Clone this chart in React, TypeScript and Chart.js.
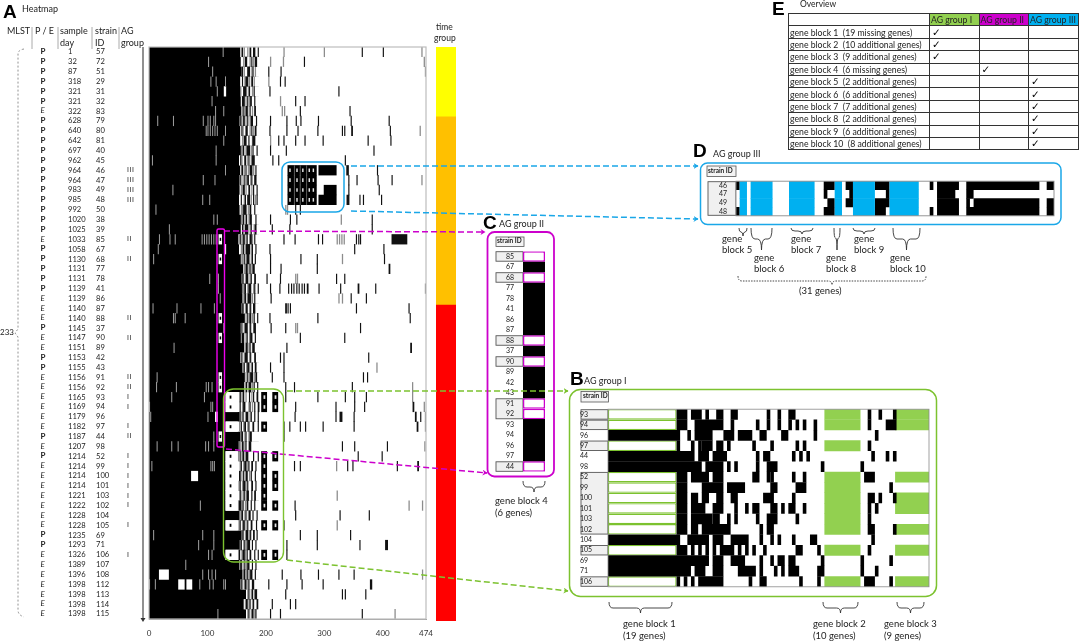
import React, { useEffect, useRef } from 'react';
import { Chart, registerables } from 'chart.js';

Chart.register(...registerables);

// ---------- Panel A : metadata ----------
const sampleDays = [1,32,87,318,321,321,322,628,640,642,697,962,964,964,983,985,992,1020,1025,1033,1058,1130,1131,1131,1139,1139,1140,1140,1145,1147,1151,1153,1155,1156,1156,1165,1169,1179,1182,1187,1207,1214,1214,1214,1214,1221,1222,1228,1228,1235,1293,1326,1389,1396,1398,1398,1398,1398];
const strainIds = ['57','72','51','29','31','32','83','79','80','81','40','45','46','47','49','48','50','38','39','85','67','68','77','78','41','86','87','88','37','90','89','42','43','91','92','93','94','96','97','44','98','52','99','100','101','103','102','104','105','69','71','106','107','108','112','113','114','115'];
const sourceTypes = ['P','P','P','P','P','P','E','P','P','P','P','P','P','P','P','P','P','P','P','E','P','P','P','P','P','E','E','E','P','E','E','P','P','E','E','E','E','E','E','P','E','P','E','E','E','E','E','E','E','P','P','E','E','E','E','E','E','E'];
const agGroups = ['','','','','','','','','','','','','III','III','III','III','','','','II','','II','','','','','','II','','II','','','','II','II','I','I','','I','II','','I','I','I','I','I','I','','I','','','I','','','','','',''];
const heatTicks = [0,100,200,300,400,474];
const timeGroupRows = [7,19,32];

// ---------- Panel A : heat map, columns ----------
const whiteFrom = [156,157,158,156,157,157,158,155,156,156,158,154,156,155,155,154,155,158,157,153,154,156,161,160,160,160,161,164,157,162,163,156,160,164,163,131,131,155,131,158,153,131,131,131,131,131,131,155,131,160,157,131,156,160,158,166,162,166];
const whiteBlocks: number[][][] = [
  [],[],[],[],[[128,132]],[],[],[],[],[],[],[],[],[],[],[],[],[],[],[[119,125]],[[129,132]],[[119,125]],[],[],[],[],[],[[119,125]],[],[[119,125]],[],[],[],[[119,125]],[[119,125]],[],[],[[113,118]],[],[[119,125]],[],[],[],[[72,84]],[],[],[],[],[],[],[],[],[],[[17,34]],[[50,61],[64,74]],[],[],[],
];
const flecks = [
  [126],[101],[108],[105,114,130],[116],[107],[113,127],[14,41,92,100,104,110,113],[97,100,104,108,112,116,130],[127],[114],[5,114],[130],[92,112],[40],[91,103],[11],[110,116],[34],[17,35,44,90,94,98,102,106,110,114],[15],[7],[],[103,118],[118],[121],[6,47,88,111],[41,44,61],[127],[],[42],[],[],[13],[12,46,97,101,107],[38,94],[0,105,108],[2,100],[],[110],[13,38,49,96,101,110],[],[4,105,108,111],[],[],[],[87],[],[],[7,91,110],[84,110],[101,107],[62],[91,101,107,113],[0,10,86,103,109,127,130],[],[],[117],
];
const darkStripes: (number | number[])[][] = [
  [159,[172,3],[178,4],186,364,400],
  [[164,4],[175,2],[181,4],265],
  [[158,3],[168,5],[177,2],204,225],
  [[159,2],[165,5],[175,3],224,232],
  [[161,6],[171,2],179,206,324],
  [[159,5],[168,2],[173,3],[180,2],250,266],
  [[160,2],[165,4],[172,2],[180,3],258,343],
  [156,[161,3],168,[174,4],[183,2],207,235,251,259,289,345,410],
  [158,[165,4],[175,2],[181,3],206,235,254,288,330,334,[346,3],412],
  [[162,5],[170,2],[177,5],221,230,250,266,297,374,413],
  [[160,3],[167,6],[177,2],[184,2],207,234,384],
  [156,[163,3],[170,2],[176,5],211,221,335],
  [[158,3],[165,2],[172,5],[182,2],[338,4],390],
  [156,[163,2],[168,3],[175,2],[180,4],341,355,391,415],
  [[160,4],[170,3],[178,2],[184,2],341,393],
  [157,[164,2],[168,5],[178,2],[184,2],[338,5],360,366,397],
  [[161,6],[172,3],[180,2],250,258],
  [[160,3],[166,2],[172,4],[182,2],207,241,252,381],
  [[159,2],[164,6],[174,2],[181,3],210,240,381],
  [156,[161,3],[167,2],[172,4],[180,2],230,249,289,296,354,358,361,[415,27]],
  [[160,3],[166,7],[176,2],[182,2],206,351,401],
  [156,[162,2],[167,5],[176,2],[181,2],207,259,287,402],
  [[165,4],[172,2],[177,4],207,225,287,[410,3]],
  [[160,2],[166,4],[174,2],[180,3],201,224,320,334],
  [157,[163,3],[170,5],[180,2],[186,2],207,223,238,243,247,252,256,261,265,[270,3],290,327,[357,3],387],
  [[163,3],[169,6],[180,2],208,345,371],
  [[160,2],[166,3],[173,2],[178,4],[233,3],237,241,354,444],
  [[168,2],[172,3],[179,2],[185,2],206,288,446],
  [158,[164,5],[173,2],[179,4],208,233,361],
  [[160,3],[167,2],[173,4],[181,2],258,334],
  [[166,3],[172,2],[177,4],235,[447,3]],
  [[158,2],[164,5],[173,2],[180,3],224,230,375],
  [[162,2],[168,4],[176,2],[181,3],207,230],
  [[168,2],[173,5],[182,3],210,230,366,373],
  [[166,2],[171,4],[179,2],[185,2],233,248,347],
  [156,[160,3],[171,2],[178,2],[184,3],233,288,335,351,371],
  [155,[161,4],[172,2],[180,2],[186,3],250,319,351,368,[451,3]],
  [155,[160,2],[166,4],[174,2],[180,2],[186,2],249,319,[326,5],350,[455,3],464],
  [157,[163,3],[170,2],[177,3],186,230,240,258,267,297,350,[458,3]],
  [[158,3],[165,2],[172,4],230],
  [153,[159,3],[165,2],[171,4],330,351,407],
  [155,[160,3],[166,4],[178,2],[186,2],357,398],
  [157,[163,4],[170,2],[175,3],[182,2],248,258,339,348,424,[459,3]],
  [[154,3],[161,2],[166,3],[174,2],[181,2]],
  [155,[161,4],[168,2],[175,3],[182,2]],
  [[156,2],[162,2],[167,4],[175,2],[180,3]],
  [[154,4],[160,2],[167,3],[174,2],[180,2],249],
  [[158,3],[165,2],[171,3],[177,2],[184,2],250,326,376],
  [155,[161,3],[168,2],[174,3],[183,2],230],
  [[160,2],[166,4],[173,2],[178,3],184,258,287,344],
  [157,[163,2],[168,5],[176,2],[182,2],235,287,360,[404,5]],
  [[154,2],[160,4],[167,2],[172,3],[180,2],[186,2],235],
  [[156,3],[163,2],[168,4],[176,2],[182,2]],
  [[162,3],[168,2],[173,4],[181,2],227,259,289,324,350],
  [[158,2],[164,3],[170,2],[176,4],204,235,261,297,[378,4]],
  [[170,2],[176,2],[181,4],233,330,335,370],
  [[166,3],[172,2],[178,2],[184,3],210,241,250],
  [[170,2],[176,3],[182,2],207,224,364],
];
const grayStripes: number[][] = [
  [157,162,168,230,299,466],[161,172,178,207,229,470],[162,175,181,472],[163,171,179,204],[156,169,176],[165,171,224],[162,168,176,227,231],[158,165,172],[160,172,178,463],[159,176,207],[157,165,174],[158,167,174],[162,169,178,337],[160,166,173,466],[157,165,175],[162,174,181],[157,159,169,233,236],[157,164,170,328],[161,172,179],[154,159,165,176,321,325,329,333],
  [157,164,174],[159,165,174,330],[162,170,175],[158,164,172,250,253],[161,168,178,472],[160,167,176,324,330],[158,164,171],[165,171,176],[162,171,178,250,253],[157,165,171],
  [164,170,176],[156,162,171],[160,166,174,389],[165,171,179],[164,169,176,450],[154,165,175,450],[159,170,176,470],[158,164,172,472],[154,161,168,472],[156,163,170],[156,163,170,471],[152,158,164],[155,161,168,320],[158,164,171],[153,159,165],[154,160,165,321],[152,158,164,444,467],[156,163,169],[153,159,165,321],[158,164,171],[155,161,166],[152,158,164],[154,160,166],[160,166,171,467],[156,162,168],[168,174,179],[164,170,176],[168,174,180,420],
];
const openFieldCols = [188,474];
const blockBlackCols = [[192,202],[211,221]];
const blockTwoRows = [35,36,38,41,42,43,44,45,46,48,51];
const blockThreeRows = [35,36,41,43,44,46,48,51];
const groupOneBlockRows = [35,36,38,41,42,43,44,45,46,48,51];
const groupTwoBlockRows = [19,21,27,29,33,34,39];
const groupThreeRows = [12,13,14,15];
const groupThreeSpans = [[[237,287],[290,321]],[[237,287]],[[237,287],[299,321]],[[237,287],[290,321]]];
const groupThreeGaps = [248,258,269];
const groupThreeDots = [240,252,262,273,280];

// ---------- Panel B ----------
const bStrains = ['93','94','96','97','44','98','52','99','100','101','103','102','104','105','69','71','106'];
const bBlackCells = [
  [[19,22],[23,26],[27,28],[30,32],[34,36],[44,45],[47,48],[50,52],[72,73],[75,76],[79,80]],
  [[19,22],[24,32],[34,35],[41,42],[44,45],[47,48],[50,51],[52,53],[54,55],[57,58],[72,73],[77,80]],
  [[0,20],[22,23],[24,29],[32,35],[36,40],[42,44],[48,50],[57,58],[74,75]],
  [[19,20],[23,24],[25,26],[26,29],[30,32],[33,34],[40,41],[45,46],[52,53],[54,55],[72,73]],
  [[0,24],[25,28],[29,33],[41,42],[43,45],[51,52],[53,54],[55,56],[73,74],[77,78],[79,80]],
  [[0,26],[27,32],[33,34],[35,36],[41,42],[44,47],[59,60],[70,71]],
  [[19,22],[23,28],[29,32],[40,42],[44,45],[45,46],[51,52],[54,55],[71,74]],
  [[19,22],[26,32],[33,38],[45,47],[52,55],[78,79]],
  [[19,22],[23,25],[26,28],[30,32],[34,36],[43,46],[51,52],[72,74],[75,76],[79,80]],
  [[19,22],[23,27],[29,32],[35,36],[38,39],[40,42],[45,47],[48,49],[50,52],[54,55],[72,73],[74,75]],
  [[19,22],[23,29],[29,31],[33,34],[35,36],[41,42],[44,47],[52,53],[72,73]],
  [[19,22],[23,25],[26,34],[42,43],[44,46],[72,74],[79,80]],
  [[0,20],[22,28],[29,32],[34,39],[42,43],[45,46],[47,48],[51,52],[56,58],[73,74]],
  [[19,22],[23,24],[25,26],[27,28],[29,30],[31,35],[36,37],[38,39],[40,41],[43,44],[52,54],[58,59],[72,73]],
  [[0,28],[29,32],[34,38],[42,43],[45,46],[47,49],[50,52],[59,60],[70,71],[78,79]],
  [[0,23],[24,27],[29,32],[36,41],[42,43],[46,47],[48,49],[50,53],[58,60],[70,71],[74,75]],
  [[19,20],[21,22],[23,24],[25,32],[39,40],[42,44],[53,54],[58,59],[71,74],[78,79]],
];
const bBlockOneRows = ['93','94','97','52','99','100','101','103','102','105','106'];
const bBlockTwoRows = ['93','94','97','52','99','100','101','103','102','105','106'];
const bBlockThreeRows = ['93','94','52','100','101','102','105','106'];
const bLabelBoxes = [[0,0],[1,1],[3,3],[6,11],[13,13],[16,16]];

// ---------- Panel C ----------
const cStrains = ['85','67','68','77','78','41','86','87','88','37','90','89','42','43','91','92','93','94','96','97','44'];
const cWhiteRows = ['85','68','88','90','91','92','44'];
const cLabelBoxes = [[0,0],[2,2],[8,8],[10,10],[14,15],[20,20]];

// ---------- Panel D ----------
const dStrains = ['46','47','49','48'];
const dBlackCells = [
  [[0,1],[24,27],[30,32],[38,42],[53,54],[55,61],[63,83],[85,87]],
  [[24,25],[31,32],[41,42],[55,60],[63,65]],
  [[25,27],[30,32],[38,42],[55,61],[63,64],[65,83],[85,87]],
  [[0,1],[24,27],[38,41],[53,54],[55,61],[63,83],[85,87]],
];
const dBlueCols = [[1,3],[4,10],[14.5,21.5],[27,29],[32,38],[42,50]];

// ---------- Panel E ----------
const overviewHeads = ['AG group I','AG group II','AG group III'];
const overviewBlocks = ['gene block 1','gene block 2','gene block 3','gene block 4','gene block 5','gene block 6','gene block 7','gene block 8','gene block 9','gene block 10'];
const overviewNotes = ['(19 missing genes)','(10 additional genes)','(9 additional genes)','(6 missing genes)','(2 additional genes)','(6 additional genes)','(7 additional genes)','(2 additional genes)','(6 additional genes)','(8 additional genes)'];
const overviewGroup = [0,0,0,1,2,2,2,2,2,2];

const GREEN = '#92D050';
const GREEN_LINE = '#7CC22F';
const BLUE = '#00B0F0';
const BLUE_LINE = '#1AA7E8';
const MAGENTA = '#CC00CC';
const BODY = 'Lato, "Noto Sans", sans-serif';

type Seg = { x: number[]; y: string };
const flat = (rows: (number[][])[], labels: string[]): Seg[] =>
  rows.flatMap((spans, r) => spans.map(s => ({ x: [s[0], s[1]], y: labels[r] })));

const bars = (label: string, data: Seg[], color: string, extra: any = {}) => ({
  label, data, backgroundColor: color, borderWidth: 0, grouped: false,
  categoryPercentage: 1.04, barPercentage: 1, ...extra,
});

const framePlugin = (bg: string, edge: string, lw = 1) => ({
  id: 'frame',
  beforeDatasetsDraw(c: any) {
    const { ctx, chartArea: a } = c;
    ctx.save(); ctx.fillStyle = bg; ctx.fillRect(a.left, a.top, a.right - a.left, a.bottom - a.top); ctx.restore();
  },
  afterDatasetsDraw(c: any) {
    const { ctx, chartArea: a } = c;
    ctx.save(); ctx.strokeStyle = edge; ctx.lineWidth = lw;
    ctx.strokeRect(a.left, a.top, a.right - a.left, a.bottom - a.top); ctx.restore();
  },
});

const labelBoxPlugin = (groups: number[][], fill: string) => ({
  id: 'labelBoxes',
  beforeDraw(c: any) {
    const { ctx, chartArea: a } = c; const y = c.scales.y;
    const rowH = (a.bottom - a.top) / y.ticks.length;
    ctx.save();
    groups.forEach(([f, l]) => {
      const top = a.top + f * rowH; const h = (l - f + 1) * rowH;
      ctx.fillStyle = fill; ctx.fillRect(y.left + 1, top + 0.5, a.left - y.left - 1, h - 1);
      ctx.strokeStyle = '#555'; ctx.lineWidth = 0.9;
      ctx.strokeRect(y.left + 1, top + 0.5, a.left - y.left - 1, h - 1);
    });
    ctx.restore();
  },
});

const catY = (labels: string[], show: boolean, width: number, align: any, size = 7.5, pad = 1) => ({
  type: 'category', labels, offset: true, display: show,
  grid: { display: false }, border: { display: false },
  afterFit: (s: any) => { s.width = width; },
  ticks: { autoSkip: false, padding: pad, color: '#222', font: { family: BODY, size }, crossAlign: align },
});

const base = (extra: any) => ({
  responsive: false, animation: false, devicePixelRatio: 1, maintainAspectRatio: false,
  plugins: { legend: { display: false }, tooltip: { enabled: false }, title: { display: false } },
  ...extra,
});

function heatConfig() {
  const whiteRows = whiteFrom.map((w, r) => [[w, openFieldCols[0] + 1], ...whiteBlocks[r]]);
  const fieldRows = whiteFrom.map(() => [openFieldCols]);
  const fleckRows = flecks.map(cols => cols.map(c => [c, c + 1.8]));
  const darkRows = darkStripes.map(row => row.map(v => Array.isArray(v) ? [v[0], v[0] + v[1]] : [v, v + 2]));
  const grayRows = grayStripes.map(row => row.map(c => [c, c + 2.2]));
  const blockBlack: Seg[] = [
    ...blockTwoRows.map(r => ({ x: blockBlackCols[0], y: strainIds[r] })),
    ...blockThreeRows.map(r => ({ x: blockBlackCols[1], y: strainIds[r] })),
    ...groupThreeRows.flatMap((r, i) => groupThreeSpans[i].map(s => ({ x: s, y: strainIds[r] }))),
  ];
  const lightDots: Seg[] = [
    ...blockTwoRows.map(r => ({ x: [196, 199], y: strainIds[r] })),
    ...blockThreeRows.map(r => ({ x: [215, 218], y: strainIds[r] })),
    ...groupThreeRows.flatMap(r => groupThreeDots.map(c => ({ x: [c, c + 2.5], y: strainIds[r] }))),
  ];
  const gaps: Seg[] = groupThreeRows.flatMap(r => groupThreeGaps.map(c => ({ x: [c, c + 1.5], y: strainIds[r] })));
  const blackDots: Seg[] = [
    ...groupOneBlockRows.map(r => ({ x: [138, 141], y: strainIds[r] })),
    ...groupTwoBlockRows.map(r => ({ x: [121, 123.5], y: strainIds[r] })),
  ];
  const cleared: Seg[] = [
    ...groupOneBlockRows.map(r => ({ x: [131, 152], y: strainIds[r] })),
    ...groupThreeRows.map(r => ({ x: [228, 237], y: strainIds[r] })),
  ];
  return {
    type: 'bar',
    data: {
      labels: strainIds,
      datasets: [
        bars('dots', blackDots, '#000', { barPercentage: 0.3 }),
        bars('lightDots', lightDots, '#e4e4e4', { barPercentage: 0.35 }),
        bars('gaps', gaps, '#6a6a6a'),
        bars('blockBlack', blockBlack, '#000'),
        bars('cleared', cleared, '#fff'),
        bars('dark', flat(darkRows, strainIds), '#111'),
        bars('gray', flat(grayRows, strainIds), '#8c8c8c'),
        bars('flecks', flat(fleckRows, strainIds), '#9a9a9a'),
        bars('white', flat(whiteRows, strainIds), '#fff'),
        bars('field', flat(fieldRows, strainIds), '#fff', { categoryPercentage: 1.25 }),
      ],
    },
    options: base({
      indexAxis: 'y',
      layout: { padding: { left: 9, right: 14, top: 7, bottom: 0 } },
      scales: {
        y: catY(strainIds, false, 0, 'near'),
        x: {
          type: 'linear', min: 0, max: 474, position: 'bottom',
          grid: { display: false }, border: { display: true, color: '#999' },
          afterBuildTicks: (s: any) => { s.ticks = heatTicks.map(value => ({ value })); },
          afterFit: (s: any) => { s.height = 21; },
          ticks: { color: '#333', padding: 2, maxRotation: 0, font: { family: BODY, size: 8 }, autoSkip: false },
        },
      },
    }),
    plugins: [framePlugin('#000', '#bdbdbd', 1.2)],
  };
}

function timeConfig() {
  const colors = ['#FFFF00', '#FFC000', '#FF0000'];
  return {
    type: 'bar',
    data: {
      labels: ['time group'],
      datasets: timeGroupRows.map((v, i) => ({
        label: 'group ' + i, data: [v], backgroundColor: colors[i], borderWidth: 0,
        categoryPercentage: 1, barPercentage: 1, stack: 't',
      })),
    },
    options: base({
      layout: { padding: 0 },
      scales: {
        x: { display: false, stacked: true },
        y: { display: false, stacked: true, min: 0, max: 58, reverse: true },
      },
    }),
  };
}

function groupOneConfig() {
  const g1 = bBlockOneRows.map(y => ({ x: [0, 19], y }));
  const g2 = bBlockTwoRows.map(y => ({ x: [60, 70], y }));
  const g3 = bBlockThreeRows.map(y => ({ x: [79.6, 89], y }));
  return {
    type: 'bar',
    data: {
      labels: bStrains,
      datasets: [
        bars('black', flat(bBlackCells, bStrains), '#000', { categoryPercentage: 1.02 }),
        bars('block 1', g1, '#fff', { categoryPercentage: 1, borderWidth: 1.3, borderColor: GREEN_LINE, borderSkipped: false, inflateAmount: 0 }),
        bars('block 2', g2, GREEN),
        bars('block 3', g3, GREEN),
      ],
    },
    options: base({
      indexAxis: 'y', layout: { padding: { top: 1, bottom: 1, right: 1 } },
      scales: {
        y: catY(bStrains, true, 28, 'far', 7, 3),
        x: { type: 'linear', min: 0, max: 89, display: false },
      },
    }),
    plugins: [framePlugin('#fff', '#8a8a8a', 0.8), labelBoxPlugin(bLabelBoxes, '#f0f0f0')],
  };
}

function groupTwoConfig() {
  const black = cStrains.filter(s => !cWhiteRows.includes(s)).map(y => ({ x: [0, 1], y }));
  const white = cWhiteRows.map(y => ({ x: [0, 1], y }));
  return {
    type: 'bar',
    data: {
      labels: cStrains,
      datasets: [
        bars('white', white, '#fff', { categoryPercentage: 1, borderWidth: 1.5, borderColor: MAGENTA, borderSkipped: false, inflateAmount: 0 }),
        bars('black', black, '#000'),
      ],
    },
    options: base({
      indexAxis: 'y', layout: { padding: { top: 1, bottom: 1, right: 1 } },
      scales: {
        y: catY(cStrains, true, 28, 'near', 7),
        x: { type: 'linear', min: 0, max: 1, display: false },
      },
    }),
    plugins: [framePlugin('#fff', 'rgba(0,0,0,0)', 0.5), labelBoxPlugin(cLabelBoxes, '#f0f0f0')],
  };
}

function groupThreeConfig() {
  const blue = dStrains.flatMap(y => dBlueCols.map(c => ({ x: c, y })));
  return {
    type: 'bar',
    data: {
      labels: dStrains,
      datasets: [
        bars('blue', blue, BLUE),
        bars('black', flat(dBlackCells, dStrains), '#000'),
      ],
    },
    options: base({
      indexAxis: 'y', layout: { padding: { top: 1, bottom: 1, right: 1 } },
      scales: {
        y: catY(dStrains, true, 29, 'near', 7),
        x: { type: 'linear', min: 0, max: 87, display: false },
      },
    }),
    plugins: [framePlugin('#fff', '#8a8a8a', 0.9), labelBoxPlugin([[0, 3]], '#f0f0f0')],
  };
}

function Panel({ x, y, w, h, make }: { x: number; y: number; w: number; h: number; make: () => any }) {
  const ref = useRef<HTMLCanvasElement>(null);
  useEffect(() => {
    const chart = new Chart(ref.current as HTMLCanvasElement, make());
    return () => chart.destroy();
  }, [make]);
  return (
    <div style={{ position: 'absolute', left: x, top: y, width: w, height: h }}>
      <canvas ref={ref} width={w} height={h} style={{ width: w, height: h, display: 'block' }} />
    </div>
  );
}

function T({ x, y, s = 9, children, bold, italic, color = '#222', font = BODY, spacing = 0 }: any) {
  return (
    <div style={{
      position: 'absolute', left: x, top: y - s * 0.6, fontSize: s, lineHeight: 1.2, whiteSpace: 'nowrap', letterSpacing: spacing,
      fontFamily: font, fontWeight: bold ? 700 : 400, fontStyle: italic ? 'italic' : 'normal', color,
    }}>{children}</div>
  );
}

const Letter = ({ x, y, c }: any) => <T x={x} y={y} s={19} bold font={'"Liberation Sans", Arial, sans-serif'} color="#000">{c}</T>;

const brace = (x0: number, x1: number, y0: number, y1: number, y2: number) => {
  const m = (x0 + x1) / 2; const r = Math.min(4, (x1 - x0) / 4);
  return `M${x0} ${y0} Q${x0} ${y1} ${x0 + r} ${y1} L${m - r} ${y1} Q${m} ${y1} ${m} ${y2} Q${m} ${y1} ${m + r} ${y1} L${x1 - r} ${y1} Q${x1} ${y1} ${x1} ${y0}`;
};

function Overlay() {
  const Arrow = ({ x1, y1, x2, y2, c, id }: any) => (
    <line x1={x1} y1={y1} x2={x2} y2={y2} stroke={c} strokeWidth={1.5} strokeDasharray="6 3" markerEnd={`url(#${id})`} />
  );
  const mk = (id: string, c: string) => (
    <marker id={id} markerWidth="6" markerHeight="6" refX="4.5" refY="3" orient="auto" markerUnits="userSpaceOnUse">
      <path d="M0 0 L5 3 L0 6 L1.5 3 Z" fill={c} />
    </marker>
  );
  const braces = [
    [609, 672, 602, 608, 613], [823, 858, 602, 608, 613], [897, 924, 602, 608, 613],
    [523, 545, 481, 487, 492],
    [739, 747, 228, 232, 236], [751, 772, 228, 239, 250], [791, 813, 228, 231, 234],
    [834, 840, 228, 238, 250], [853, 875, 228, 231, 234], [893, 920, 228, 239, 250],
  ];
  return (
    <svg width={1079} height={641} style={{ position: 'absolute', left: 0, top: 0, pointerEvents: 'none' }}>
      <defs>{mk('aB', BLUE_LINE)}{mk('aM', MAGENTA)}{mk('aG', GREEN_LINE)}</defs>
      {[32, 58, 92, 119].map(x => <line key={x} x1={x} x2={x} y1={27} y2={49} stroke="#aaa" strokeWidth={1} />)}
      <path d="M24 49 Q18 50 18 54 L18 329 L15 333 L18 337 L18 610 Q18 615 24 617" fill="none" stroke="#777" strokeWidth={0.8} strokeDasharray="2 2" />
      <line x1={143} y1={47} x2={143} y2={620} stroke="#555" strokeWidth={1.3} />
      <path d="M140.5 618 L145.5 618 L143 622 Z" fill="#333" />
      <Arrow x1={351} y1={166} x2={698} y2={166} c={BLUE_LINE} id="aB" />
      <Arrow x1={351} y1={211} x2={698} y2={219} c={BLUE_LINE} id="aB" />
      <Arrow x1={224} y1={231} x2={485} y2={232} c={MAGENTA} id="aM" />
      <Arrow x1={226} y1={449} x2={487} y2={473} c={MAGENTA} id="aM" />
      <Arrow x1={287} y1={391} x2={568} y2={391} c={GREEN_LINE} id="aG" />
      <Arrow x1={287} y1={560} x2={568} y2={591} c={GREEN_LINE} id="aG" />
      <rect x={282} y={162} width={62} height={50} rx={8} fill="none" stroke={BLUE_LINE} strokeWidth={1.5} />
      <rect x={217} y={229} width={7.5} height={218} rx={1.5} fill="none" stroke="#EE00EE" strokeWidth={1.4} />
      <rect x={223.5} y={389} width={60} height={173} rx={10} fill="none" stroke={GREEN_LINE} strokeWidth={1.4} />
      <rect x={569.5} y={389.5} width={367} height={207} rx={11} fill="none" stroke={GREEN_LINE} strokeWidth={1.5} />
      <rect x={487.5} y={232} width={66.5} height={244.5} rx={7} fill="none" stroke={MAGENTA} strokeWidth={1.8} />
      <rect x={700.5} y={163} width={360.5} height={61.5} rx={7} fill="none" stroke={BLUE_LINE} strokeWidth={1.5} />
      {braces.map((b, i) => <path key={i} d={brace(b[0], b[1], b[2], b[3], b[4])} fill="none" stroke="#333" strokeWidth={0.9} />)}
      <path d={brace(738, 926, 276, 281, 285)} fill="none" stroke="#333" strokeWidth={0.9} strokeDasharray="1.5 1.2" />
      <rect x={581} y={391.5} width={27.5} height={10.5} fill="#f4f4f4" stroke="#555" strokeWidth={0.8} />
      <rect x={496} y={237} width={28} height={9.5} fill="#f4f4f4" stroke="#555" strokeWidth={0.8} />
      <rect x={707} y={166} width={29} height={10.5} fill="#f4f4f4" stroke="#555" strokeWidth={0.8} />
    </svg>
  );
}

function Overview() {
  const cell: React.CSSProperties = { border: '1px solid #333', padding: 0, height: 11.4, lineHeight: '11px', overflow: 'hidden' };
  const heads = [GREEN, MAGENTA, BLUE];
  return (
    <table style={{
      position: 'absolute', left: 788, top: 13, width: 290, borderCollapse: 'collapse', tableLayout: 'fixed',
      fontFamily: BODY, fontSize: 8.7, color: '#222',
    }}>
      <colgroup><col style={{ width: 141 }} /><col style={{ width: 49.5 }} /><col style={{ width: 49.5 }} /><col style={{ width: 49.5 }} /></colgroup>
      <tbody>
        <tr>
          <td style={cell} />
          {overviewHeads.map((h, i) => <td key={h} style={{ ...cell, background: heads[i], paddingLeft: 1 }}>{h}</td>)}
        </tr>
        {overviewBlocks.map((b, r) => (
          <tr key={b}>
            <td style={{ ...cell, paddingLeft: 1, whiteSpace: 'nowrap' }}>{b}{'\u00a0\u00a0'}{overviewNotes[r]}</td>
            {overviewHeads.map((_, c) => (
              <td key={c} style={{ ...cell, paddingLeft: 2, fontFamily: '"DejaVu Sans", sans-serif', fontSize: 10.5, fontWeight: 700, color: '#000' }}>{overviewGroup[r] === c ? '\u2713' : ''}</td>
            ))}
          </tr>
        ))}
      </tbody>
    </table>
  );
}

export default function App() {
  useEffect(() => { document.body.style.margin = '0'; document.body.style.background = '#fff'; }, []);
  const rowY = (i: number) => 52 + i * 9.86;
  return (
    <div style={{ position: 'relative', width: 1079, height: 641, overflow: 'hidden', background: '#fff' }}>
      <Panel x={140} y={40} w={300} h={600} make={heatConfig} />
      <Panel x={436} y={47} w={20} h={574} make={timeConfig} />
      <Panel x={580} y={401.5} w={350} h={192} make={groupOneConfig} />
      <Panel x={495} y={245.5} w={51} h={231} make={groupTwoConfig} />
      <Panel x={707} y={175.5} w={348} h={45} make={groupThreeConfig} />
      <Overlay />

      <Letter x={3} y={12} c="A" />
      <T x={22} y={9} s={9}>Heatmap</T>
      <T x={7} y={31} s={9}>MLST</T>
      <T x={35} y={31} s={9}>P / E</T>
      <T x={60} y={31} s={9}>sample</T>
      <T x={60} y={43} s={9}>day</T>
      <T x={95} y={31} s={9}>strain</T>
      <T x={95} y={43} s={9}>ID</T>
      <T x={121} y={31} s={9}>AG</T>
      <T x={121} y={43} s={9}>group</T>
      <T x={0} y={333} s={8}>233</T>
      <T x={436} y={27} s={8.5}>time</T>
      <T x={434} y={38} s={8.5}>group</T>
      {strainIds.map((id, i) => (
        <React.Fragment key={id}>
          <T x={40.5} y={rowY(i)} s={8} bold={sourceTypes[i] === 'P'} italic={sourceTypes[i] === 'E'}>{sourceTypes[i]}</T>
          <T x={68} y={rowY(i)} s={7.6}>{sampleDays[i]}</T>
          <T x={96} y={rowY(i)} s={7.6}>{id}</T>
          {agGroups[i] ? <T x={127} y={rowY(i)} s={7} spacing={0.6} font={'"Liberation Sans", sans-serif'}>{agGroups[i]}</T> : null}
        </React.Fragment>
      ))}

      <Letter x={570} y={379} c="B" />
      <T x={584} y={381} s={9}>AG group I</T>
      <T x={583} y={396} s={6.5} bold>strain ID</T>
      <T x={623} y={624} s={9.5}>gene block 1</T>
      <T x={623} y={636} s={9.5}>(19 genes)</T>
      <T x={813} y={624} s={9.5}>gene block 2</T>
      <T x={813} y={636} s={9.5}>(10 genes)</T>
      <T x={884} y={624} s={9.5}>gene block 3</T>
      <T x={884} y={636} s={9.5}>(9 genes)</T>

      <Letter x={483} y={223} c="C" />
      <T x={499} y={224} s={9}>AG group II</T>
      <T x={497} y={241} s={6.5} bold>strain ID</T>
      <T x={495} y={501} s={9.5}>gene block 4</T>
      <T x={495} y={513} s={9.5}>(6 genes)</T>

      <Letter x={693} y={151} c="D" />
      <T x={713} y={154} s={9}>AG group III</T>
      <T x={708} y={171} s={6.5} bold>strain ID</T>
      <T x={722} y={239} s={9.5}>gene</T><T x={722} y={250} s={9.5}>block 5</T>
      <T x={754} y={258} s={9.5}>gene</T><T x={754} y={269} s={9.5}>block 6</T>
      <T x={791} y={239} s={9.5}>gene</T><T x={791} y={250} s={9.5}>block 7</T>
      <T x={826} y={258} s={9.5}>gene</T><T x={826} y={269} s={9.5}>block 8</T>
      <T x={854} y={239} s={9.5}>gene</T><T x={854} y={250} s={9.5}>block 9</T>
      <T x={890} y={258} s={9.5}>gene</T><T x={890} y={269} s={9.5}>block 10</T>
      <T x={799} y={291} s={9.5}>(31 genes)</T>

      <Letter x={772} y={9} c="E" />
      <T x={800} y={4} s={8.5}>Overview</T>
      <Overview />
    </div>
  );
}
